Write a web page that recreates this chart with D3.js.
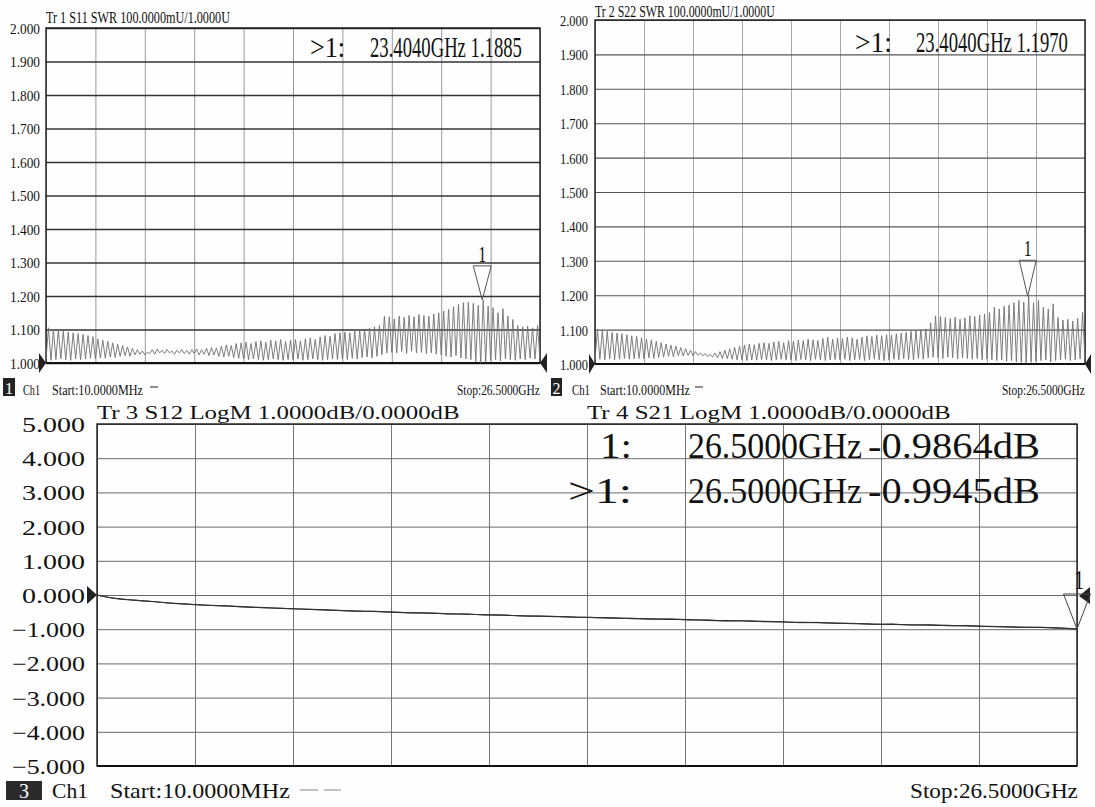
<!DOCTYPE html>
<html><head><meta charset="utf-8">
<script src="https://cdn.jsdelivr.net/npm/d3@7"></script>
<style>html,body{margin:0;padding:0;background:#fff;}svg{display:block;}</style>
</head><body>
<script>
// ---------------- DATA ----------------
const START_GHZ = 0.01, STOP_GHZ = 26.5;
const SWR_TICKS = [1.0,1.1,1.2,1.3,1.4,1.5,1.6,1.7,1.8,1.9,2.0];
const LOG_TICKS = [-5,-4,-3,-2,-1,0,1,2,3,4,5];
const DIVISIONS = d3.range(11);

// S11 SWR ripple: one peak and one trough per ripple cycle (100 cycles over the sweep)
const S11_PEAK = [
 1.105,1.100,1.098,1.095,1.092,1.090,1.088,1.085,1.082,1.078,
 1.072,1.068,1.065,1.060,1.056,1.052,1.048,1.044,1.040,1.036,
 1.032,1.040,1.042,1.038,1.040,1.036,1.038,1.040,1.038,1.040,
 1.042,1.040,1.044,1.046,1.045,1.050,1.054,1.052,1.058,1.060,
 1.062,1.058,1.064,1.066,1.062,1.068,1.066,1.070,1.064,1.068,
 1.070,1.066,1.072,1.075,1.070,1.078,1.082,1.080,1.088,1.090,
 1.092,1.090,1.095,1.098,1.100,1.104,1.108,1.112,1.140,1.138,
 1.132,1.140,1.136,1.142,1.138,1.145,1.142,1.140,1.146,1.150,
 1.155,1.160,1.168,1.175,1.180,1.182,1.178,1.172,1.188,1.170,
 1.165,1.150,1.162,1.140,1.130,1.112,1.108,1.110,1.105,1.112];
const S11_TROUGH = [
 1.010,1.008,1.010,1.012,1.010,1.008,1.012,1.010,1.012,1.014,
 1.012,1.015,1.014,1.018,1.016,1.020,1.022,1.020,1.024,1.026,
 1.024,1.028,1.026,1.030,1.028,1.030,1.026,1.030,1.028,1.026,
 1.028,1.024,1.026,1.022,1.024,1.020,1.018,1.020,1.016,1.014,
 1.012,1.010,1.012,1.010,1.008,1.010,1.012,1.010,1.008,1.010,
 1.010,1.012,1.008,1.010,1.012,1.010,1.008,1.010,1.012,1.010,
 1.012,1.010,1.014,1.012,1.016,1.018,1.015,1.020,1.025,1.030,
 1.032,1.030,1.034,1.028,1.035,1.030,1.032,1.028,1.030,1.026,
 1.024,1.020,1.018,1.022,1.015,1.012,1.010,1.004,1.000,1.002,
 1.008,1.010,1.006,1.012,1.010,1.008,1.012,1.010,1.014,1.012];

// S22 SWR ripple
const S22_PEAK = [
 1.100,1.098,1.095,1.092,1.090,1.088,1.085,1.082,1.080,1.076,
 1.072,1.070,1.066,1.062,1.058,1.055,1.052,1.048,1.045,1.040,
 1.036,1.032,1.030,1.028,1.032,1.036,1.040,1.044,1.048,1.052,
 1.055,1.058,1.056,1.060,1.062,1.060,1.064,1.066,1.062,1.068,
 1.066,1.070,1.068,1.072,1.070,1.068,1.074,1.078,1.072,1.075,
 1.074,1.078,1.076,1.072,1.078,1.082,1.080,1.084,1.082,1.085,
 1.084,1.088,1.090,1.092,1.095,1.098,1.100,1.102,1.120,1.140,
 1.138,1.135,1.132,1.136,1.130,1.134,1.140,1.138,1.142,1.145,
 1.150,1.165,1.160,1.168,1.172,1.178,1.185,1.180,1.197,1.178,
 1.185,1.165,1.160,1.175,1.135,1.128,1.130,1.125,1.132,1.150];
const S22_TROUGH = [
 1.012,1.014,1.012,1.015,1.012,1.014,1.016,1.014,1.015,1.016,
 1.015,1.018,1.016,1.019,1.020,1.022,1.021,1.024,1.023,1.025,
 1.024,1.025,1.024,1.022,1.020,1.018,1.016,1.015,1.014,1.012,
 1.012,1.010,1.012,1.011,1.013,1.012,1.010,1.012,1.014,1.012,
 1.012,1.010,1.013,1.012,1.010,1.014,1.012,1.010,1.012,1.013,
 1.012,1.014,1.010,1.012,1.013,1.010,1.012,1.014,1.012,1.010,
 1.012,1.014,1.012,1.015,1.013,1.012,1.016,1.014,1.018,1.020,
 1.018,1.016,1.020,1.018,1.015,1.018,1.016,1.014,1.016,1.012,
 1.014,1.012,1.010,1.012,1.008,1.010,1.006,1.004,1.002,1.005,
 1.008,1.010,1.012,1.006,1.010,1.012,1.014,1.010,1.012,1.015];

// S12 / S21 insertion loss (dB), sampled every 0.5 GHz
const LOSS_FREQ = [0.01,0.5,1,1.5,2,2.5,3,3.5,4,4.5,5,5.5,6,6.5,7,7.5,8,8.5,9,9.5,10,10.5,11,11.5,12,12.5,13,13.5,14,14.5,15,15.5,16,16.5,17,17.5,18,18.5,19,19.5,20,20.5,21,21.5,22,22.5,23,23.5,24,24.5,25,25.5,26,26.5];
const S12_DB = [0.000,-0.10,-0.15,-0.19,-0.24,-0.27,-0.30,-0.32,-0.35,-0.37,-0.39,-0.41,-0.43,-0.45,-0.47,-0.48,-0.50,-0.52,-0.53,-0.55,-0.56,-0.58,-0.59,-0.61,-0.62,-0.63,-0.65,-0.66,-0.67,-0.69,-0.70,-0.71,-0.72,-0.74,-0.75,-0.76,-0.77,-0.79,-0.80,-0.81,-0.82,-0.84,-0.85,-0.86,-0.87,-0.88,-0.89,-0.90,-0.92,-0.93,-0.94,-0.95,-0.96,-0.9945];
const S21_DB = [0.000,-0.10,-0.15,-0.19,-0.24,-0.27,-0.30,-0.32,-0.35,-0.37,-0.39,-0.41,-0.43,-0.45,-0.47,-0.48,-0.50,-0.52,-0.53,-0.55,-0.56,-0.58,-0.59,-0.61,-0.62,-0.63,-0.65,-0.66,-0.68,-0.68,-0.71,-0.70,-0.73,-0.73,-0.76,-0.75,-0.78,-0.78,-0.81,-0.80,-0.83,-0.83,-0.86,-0.85,-0.88,-0.87,-0.90,-0.89,-0.92,-0.92,-0.95,-0.94,-0.97,-0.9864];

const MARKER_S11 = {f:23.404, v:1.1885};
const MARKER_S22 = {f:23.404, v:1.1970};
const MARKER_S21 = {f:26.5, v:-0.9945};

// ---------------- DRAWING ----------------
const W = 1095, H = 807;
const svg = d3.select("body").append("svg").attr("width", W).attr("height", H);
svg.append("rect").attr("width", W).attr("height", H).attr("fill", "#fefefe");

const SERIF = "'Liberation Serif','DejaVu Serif',serif";

// fit a text node to a given width by choosing the font size, then restore its height by a vertical scale
function fit(t, x, y, len, size) {
  t.style("font-family", SERIF).style("font-size", size + "px");
  const w = t.node().getComputedTextLength();
  const k = len / w;
  t.style("font-size", (size * k) + "px").attr("x", 0).attr("y", 0)
   .attr("transform", `translate(${x},${y}) scale(1,${1 / k})`);
}

function txt(x, y, s, o) {
  o = o || {};
  const t = svg.append("text").text(s).attr("fill", o.fill || "#111");
  if (o.len) {
    fit(t, x, y, o.len, o.size || 16);
  } else {
    t.attr("x", x).attr("y", y).style("font-family", SERIF).style("font-size", (o.size || 16) + "px");
  }
  if (o.anchor) t.attr("text-anchor", o.anchor);
  return t;
}

function ripplePoints(peak, trough) {
  const n = peak.length, step = (STOP_GHZ - START_GHZ) / n;
  const pts = [];
  for (let i = 0; i < n; i++) {
    pts.push([START_GHZ + i * step, trough[i]]);
    pts.push([START_GHZ + (i + 0.5) * step, peak[i]]);
  }
  pts.push([STOP_GHZ, trough[n - 1]]);
  return pts;
}

function panel(cfg) {
  const x = d3.scaleLinear().domain([START_GHZ, STOP_GHZ]).range([cfg.x0, cfg.x1]);
  const y = d3.scaleLinear().domain(cfg.domain).range([cfg.y1, cfg.y0]);
  const g = svg.append("g");
  // vertical grid
  const vt = DIVISIONS.map(i => START_GHZ + i * (STOP_GHZ - START_GHZ) / 10);
  const gx = g.append("g").attr("transform", `translate(0,${cfg.y1})`)
    .call(d3.axisBottom(x).tickValues(vt).tickSize(-(cfg.y1 - cfg.y0)).tickFormat(""));
  gx.select(".domain").remove();
  gx.selectAll("line").attr("stroke", cfg.vGrid).attr("stroke-width", 1);
  // horizontal grid + labels
  const gy = g.append("g").attr("transform", `translate(${cfg.x0},0)`)
    .call(d3.axisLeft(y).tickValues(cfg.ticks).tickSize(-(cfg.x1 - cfg.x0)).tickPadding(0).tickFormat(d3.format(".3f")));
  gy.attr("font-family", null).attr("font-size", null);
  gy.select(".domain").remove();
  gy.selectAll("line").attr("stroke", cfg.hGrid).attr("stroke-width", cfg.hWidth);
  gy.selectAll("text").attr("fill", "#111").attr("text-anchor", "start").attr("dy", null)
    .each(function (d) {
      const len = d < 0 ? cfg.labLenNeg : cfg.labLen;
      fit(d3.select(this), cfg.labRight - cfg.x0 - len, cfg.labSize * 0.36, len, cfg.labSize);
    });
  // border
  g.append("rect").attr("x", cfg.x0).attr("y", cfg.y0).attr("width", cfg.x1 - cfg.x0).attr("height", cfg.y1 - cfg.y0)
    .attr("fill", "none").attr("stroke", "#1a1a1a").attr("stroke-width", 1.4);
  g.append("line").attr("x1", cfg.x0).attr("x2", cfg.x1).attr("y1", cfg.y1).attr("y2", cfg.y1)
    .attr("stroke", "#111").attr("stroke-width", 2);
  return {x, y, g};
}

function refArrows(p, val, size, both) {
  const yy = p.y(val), xl = p.x.range()[0], xr = p.x.range()[1];
  p.g.append("path").attr("d", `M${xl - size[0]},${yy - size[1]}L${xl},${yy}L${xl - size[0]},${yy + size[1]}Z`).attr("fill", "#222");
  if (both) p.g.append("path").attr("d", `M${xr + size[0]},${yy - size[1]}L${xr},${yy}L${xr + size[0]},${yy + size[1]}Z`).attr("fill", "#222");
}

function markerTri(p, m, hw, h, stroke) {
  const ax = p.x(m.f), ay = p.y(m.v);
  p.g.append("path").attr("d", `M${ax - hw},${ay - h}L${ax + hw},${ay - h}L${ax},${ay}Z`)
    .attr("fill", "none").attr("stroke", stroke || "#555").attr("stroke-width", 1);
  return [ax, ay];
}

// ----- Panel 1: S11 SWR -----
const p1 = panel({x0: 46, x1: 540, y0: 28, y1: 363, domain: [1, 2], ticks: SWR_TICKS,
  vGrid: "#9a9a9a", hGrid: "#333", hWidth: 1.3, labSize: 15, labRight: 40, labLen: 30, labLenNeg: 30});
p1.g.append("path").datum(ripplePoints(S11_PEAK, S11_TROUGH))
  .attr("d", d3.line().x(d => p1.x(d[0])).y(d => p1.y(d[1])))
  .attr("fill", "none").attr("stroke", "#707070").attr("stroke-width", 0.9);
refArrows(p1, 1.0, [7, 10], true);
{
  const [ax, ay] = markerTri(p1, MARKER_S11, 9, 34);
  txt(ax - 4, ay - 38, "1", {size: 24, len: 8});
}
txt(46, 23, "Tr 1  S11 SWR 100.0000mU/1.0000U", {size: 16, len: 184});
txt(310, 57, ">1:", {size: 30, len: 35});
txt(370, 57, "23.4040GHz 1.1885", {size: 30, len: 152});
svg.append("rect").attr("x", 3).attr("y", 378).attr("width", 12).attr("height", 18).attr("fill", "#222");
txt(9, 394, "1", {size: 16, fill: "#fff", anchor: "middle"});
txt(23, 395, "Ch1", {size: 15, len: 17});
txt(52, 395, "Start:10.0000MHz", {size: 15, len: 91});
svg.append("line").attr("x1", 150).attr("x2", 158).attr("y1", 387).attr("y2", 387).attr("stroke", "#444").attr("stroke-width", 1.2);
txt(457, 395, "Stop:26.5000GHz", {size: 15, len: 83});

// ----- Panel 2: S22 SWR -----
const p2 = panel({x0: 595, x1: 1085, y0: 20, y1: 364, domain: [1, 2], ticks: SWR_TICKS,
  vGrid: "#a8a8a8", hGrid: "#555", hWidth: 1.1, labSize: 15, labRight: 588, labLen: 28, labLenNeg: 28});
p2.g.append("path").datum(ripplePoints(S22_PEAK, S22_TROUGH))
  .attr("d", d3.line().x(d => p2.x(d[0])).y(d => p2.y(d[1])))
  .attr("fill", "none").attr("stroke", "#707070").attr("stroke-width", 0.9);
refArrows(p2, 1.0, [6, 10], true);
{
  const [ax, ay] = markerTri(p2, MARKER_S22, 8.5, 36);
  txt(ax - 4, ay - 40, "1", {size: 24, len: 8});
}
txt(595, 17, "Tr 2  S22 SWR 100.0000mU/1.0000U", {size: 16, len: 180});
txt(855, 52, ">1:", {size: 30, len: 37});
txt(916, 52, "23.4040GHz 1.1970", {size: 30, len: 152});
svg.append("rect").attr("x", 551).attr("y", 378).attr("width", 11).attr("height", 18).attr("fill", "#222");
txt(556.5, 394, "2", {size: 16, fill: "#fff", anchor: "middle"});
txt(572, 395, "Ch1", {size: 15, len: 18});
txt(600, 395, "Start:10.0000MHz", {size: 15, len: 90});
svg.append("line").attr("x1", 695).attr("x2", 703).attr("y1", 387).attr("y2", 387).attr("stroke", "#444").attr("stroke-width", 1.2);
txt(1002, 395, "Stop:26.5000GHz", {size: 15, len: 83});

// ----- Panel 3: S12 / S21 LogM -----
const p3 = panel({x0: 97, x1: 1077, y0: 424, y1: 766, domain: [-5, 5], ticks: LOG_TICKS,
  vGrid: "#777", hGrid: "#6a6a6a", hWidth: 1, labSize: 21, labRight: 85, labLen: 63, labLenNeg: 73});
const lossLine = d3.line().x(d => p3.x(d[0])).y(d => p3.y(d[1])).curve(d3.curveMonotoneX);
p3.g.append("path").datum(LOSS_FREQ.map((f, i) => [f, S12_DB[i]])).attr("d", lossLine)
  .attr("fill", "none").attr("stroke", "#222").attr("stroke-width", 1.2);
p3.g.append("path").datum(LOSS_FREQ.map((f, i) => [f, S21_DB[i]])).attr("d", lossLine)
  .attr("fill", "none").attr("stroke", "#333").attr("stroke-width", 1);
// reference arrows at 0 dB
{
  const yy = p3.y(0);
  p3.g.append("path").attr("d", `M87,${yy - 9}L97,${yy}L87,${yy + 9}Z`).attr("fill", "#222");
  p3.g.append("path").attr("d", `M1090,${yy - 8}L1079,${yy + 1}L1090,${yy + 9}Z`).attr("fill", "#222");
  const [ax, ay] = markerTri(p3, MARKER_S21, 13.5, 35, "#444");
  txt(ax - 3, ay - 40, "1", {size: 28, len: 10});
}
txt(97, 419, "Tr 3  S12 LogM 1.0000dB/0.0000dB", {size: 19, len: 363});
txt(587, 419, "Tr 4  S21 LogM 1.0000dB/0.0000dB", {size: 19, len: 364});
txt(600, 458, "1:", {size: 36, len: 32});
txt(688, 458, "26.5000GHz", {size: 36, len: 174});
txt(868, 458, "-0.9864dB", {size: 36, len: 172});
txt(568, 503, ">1:", {size: 36, len: 64});
txt(688, 503, "26.5000GHz", {size: 36, len: 174});
txt(868, 503, "-0.9945dB", {size: 36, len: 172});
svg.append("rect").attr("x", 6).attr("y", 781).attr("width", 36).attr("height", 19).attr("fill", "#2a2a2a");
txt(24, 798, "3", {size: 20, fill: "#fff", anchor: "middle"});
txt(52, 798, "Ch1", {size: 22, len: 36});
txt(110, 798, "Start:10.0000MHz", {size: 22, len: 180});
svg.append("line").attr("x1", 300).attr("x2", 318).attr("y1", 790).attr("y2", 790).attr("stroke", "#999").attr("stroke-width", 1.2);
svg.append("line").attr("x1", 324).attr("x2", 341).attr("y1", 790).attr("y2", 790).attr("stroke", "#999").attr("stroke-width", 1.2);
txt(910, 798, "Stop:26.5000GHz", {size: 22, len: 168});
</script>
</body></html>
